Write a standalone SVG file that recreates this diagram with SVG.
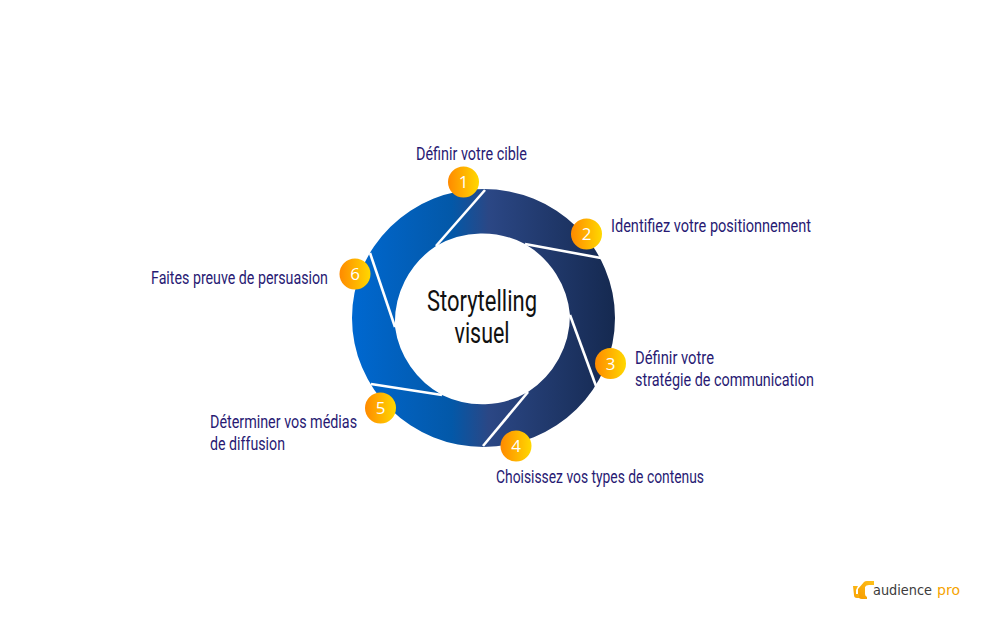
<svg xmlns="http://www.w3.org/2000/svg" width="1000" height="626" viewBox="0 0 1000 626">
<defs>
<linearGradient id="ring" gradientUnits="userSpaceOnUse" x1="352" y1="0" x2="615" y2="0">
<stop offset="0" stop-color="#0068d0"/><stop offset="0.38" stop-color="#0358a8"/><stop offset="0.52" stop-color="#2b4785"/><stop offset="1" stop-color="#152950"/>
</linearGradient>
<linearGradient id="badge"><stop offset="0" stop-color="#ff8a00"/><stop offset="1" stop-color="#ffd800"/></linearGradient>
<linearGradient id="logo" x1="0" y1="1" x2="1" y2="0"><stop offset="0" stop-color="#f59a00"/><stop offset="1" stop-color="#ffc21a"/></linearGradient>
</defs>
<style>
.b{fill:url(#badge)}
.n{font:17px "Open Sans","Liberation Sans",sans-serif;fill:#fff;text-anchor:middle}
.t{font:18.700px "Roboto","Liberation Sans",sans-serif;fill:#281a73}
.c{font:29.500px "Roboto","Liberation Sans",sans-serif;fill:#111;text-anchor:middle}
.l{fill:none;stroke:#fff;stroke-width:2.6}
</style>
<rect width="1000" height="626" fill="#fff"/>
<g id="ring-shape">
<path fill="url(#ring)" fill-rule="evenodd" d="M483.500 189A131.500 129 0 1 1 483.500 447A131.500 129 0 1 1 483.500 189ZM436 246A92 92 0 0 0 395 327A92 92 0 0 0 442 395A92 92 0 0 0 528 392A92 92 0 0 0 570 315A92 92 0 0 0 525 244A92 92 0 0 0 436 246Z"/>
</g>
<g id="connectors">
<path class="l" d="M485 190L436 246"/>
<path class="l" d="M601 258L525 244"/>
<path class="l" d="M570 315L596 386"/>
<path class="l" d="M528 392L483 446"/>
<path class="l" d="M442 395L371 384"/>
<path class="l" d="M370 253L395 327"/>
</g>
<g id="center"><text class="c" transform="translate(482 311) scale(.68 1)" textLength="161.800" lengthAdjust="spacingAndGlyphs">Storytelling</text><text class="c" transform="translate(482 343) scale(.68 1)" textLength="80.900" lengthAdjust="spacingAndGlyphs">visuel</text></g>
<g id="node1"><circle class="b" cx="463.500" cy="182" r="15.500"/><text class="n" x="463.500" y="188">1</text><text class="t" transform="translate(416 160) scale(.834 1)" textLength="133.100" lengthAdjust="spacingAndGlyphs">Définir votre cible</text></g>
<g id="node2"><circle class="b" cx="586.500" cy="234" r="15.500"/><text class="n" x="586.500" y="240">2</text><text class="t" transform="translate(611 232) scale(.834 1)" textLength="239.800" lengthAdjust="spacingAndGlyphs">Identifiez votre positionnement</text></g>
<g id="node3"><circle class="b" cx="610.500" cy="363.500" r="15.500"/><text class="n" x="610.500" y="370">3</text><text class="t" transform="translate(635 364) scale(.834 1)" textLength="94.700" lengthAdjust="spacingAndGlyphs">Définir votre</text><text class="t" transform="translate(635 386) scale(.834 1)" textLength="214.600" lengthAdjust="spacingAndGlyphs">stratégie de communication</text></g>
<g id="node4"><circle class="b" cx="516" cy="446" r="15.500"/><text class="n" x="516" y="452">4</text><text class="t" transform="translate(496 483) scale(.834 1)" textLength="249.400" lengthAdjust="spacingAndGlyphs">Choisissez vos types de contenus</text></g>
<g id="node5"><circle class="b" cx="380.500" cy="408" r="15.500"/><text class="n" x="380.500" y="414">5</text><text class="t" transform="translate(210 428) scale(.834 1)" textLength="176.300" lengthAdjust="spacingAndGlyphs">Déterminer vos médias</text><text class="t" transform="translate(210 450) scale(.834 1)" textLength="89.900" lengthAdjust="spacingAndGlyphs">de diffusion</text></g>
<g id="node6"><circle class="b" cx="355" cy="274" r="15.500"/><text class="n" x="355" y="280">6</text><text class="t" transform="translate(151 284) scale(.834 1)" textLength="212.200" lengthAdjust="spacingAndGlyphs">Faites preuve de persuasion</text></g>
<g id="logo-mark">
<path fill="url(#logo)" d="M858 589l6-7q1-1 3-1h7v4h-5q-3 0-4 2v7q0 2 2 3v2h-5q-4 0-4-4z"/>
<path fill="url(#logo)" d="M853 586h5l-2 4v4h3v4h-2q-3 0-3-3z"/>
<text x="873" y="595" font-family="DejaVu Sans, sans-serif" font-size="14" font-weight="500" fill="#3c3c3c" textLength="59" lengthAdjust="spacingAndGlyphs">audience</text>
<text x="937" y="595" font-family="DejaVu Sans, sans-serif" font-size="14" fill="#f5a400" textLength="23" lengthAdjust="spacingAndGlyphs">pro</text>
</g>
</svg>
